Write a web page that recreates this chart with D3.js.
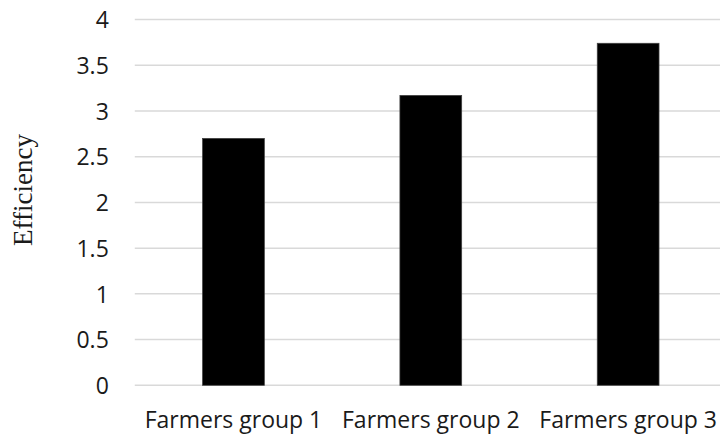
<!DOCTYPE html>
<html>
<head>
<meta charset="utf-8">
<script src="https://cdn.jsdelivr.net/npm/d3@7"></script>
<style>
  html, body { margin: 0; padding: 0; background: #fff; overflow: hidden; }
  svg { display: block; }
</style>
</head>
<body>
<svg id="chart" width="720" height="435"></svg>
<script>
// Efficiency by farmer group
const categories = ["Farmers group 1", "Farmers group 2", "Farmers group 3"];
const efficiency = [2.70, 3.17, 3.74];
const yTicks = [0, 0.5, 1, 1.5, 2, 2.5, 3, 3.5, 4];
const yLabel = "Efficiency";

const svg = d3.select("#chart");
const plot = { left: 134.8, right: 726.8, top: 19.5, bottom: 385.3 };

const x = d3.scaleBand()
  .domain(categories)
  .range([plot.left, plot.right])
  .paddingInner(0.687)
  .paddingOuter(0.3435);

const y = d3.scaleLinear()
  .domain([0, 4])
  .range([plot.bottom, plot.top]);

// horizontal gridlines
svg.append("g")
  .selectAll("line")
  .data(yTicks)
  .join("line")
  .attr("x1", plot.left)
  .attr("x2", plot.right)
  .attr("y1", d => y(d))
  .attr("y2", d => y(d))
  .attr("stroke", "#d9d9d9")
  .attr("stroke-width", 1.5);

// value axis labels
const yAxis = d3.axisLeft(y)
  .tickValues(yTicks)
  .tickFormat(d3.format("~g"))
  .tickSize(0)
  .tickPadding(0);

svg.append("g")
  .attr("transform", `translate(${plot.left - 26},0)`)
  .call(yAxis)
  .call(g => g.select(".domain").remove())
  .call(g => g.selectAll("text")
    .attr("font-family", "'Open Sans', sans-serif")
    .attr("font-size", 23)
    .attr("fill", "#1a1a1a")
    .attr("dy", "0.36em"));

// bars
svg.append("g")
  .selectAll("rect")
  .data(categories.map((c, i) => ({ c, v: efficiency[i] })))
  .join("rect")
  .attr("x", d => x(d.c))
  .attr("width", x.bandwidth())
  .attr("y", d => y(d.v))
  .attr("height", d => y(0) - y(d.v))
  .attr("fill", "#000")
  .attr("stroke", "#404040")
  .attr("stroke-width", 0.75);

// category labels
const xAxis = d3.axisBottom(x).tickSize(0).tickPadding(0);
svg.append("g")
  .attr("transform", `translate(0,${plot.bottom})`)
  .call(xAxis)
  .call(g => g.select(".domain").remove())
  .call(g => g.selectAll("text")
    .attr("font-family", "'Open Sans', sans-serif")
    .attr("font-size", 23)
    .attr("fill", "#1a1a1a")
    .attr("dy", "0")
    .attr("y", 43));

// axis title
svg.append("text")
  .attr("transform", `translate(32,190) rotate(-90)`)
  .attr("text-anchor", "middle")
  .attr("font-family", "'Liberation Serif', 'Times New Roman', serif")
  .attr("font-size", 27)
  .attr("fill", "#1a1a1a")
  .text(yLabel);
</script>
</body>
</html>
